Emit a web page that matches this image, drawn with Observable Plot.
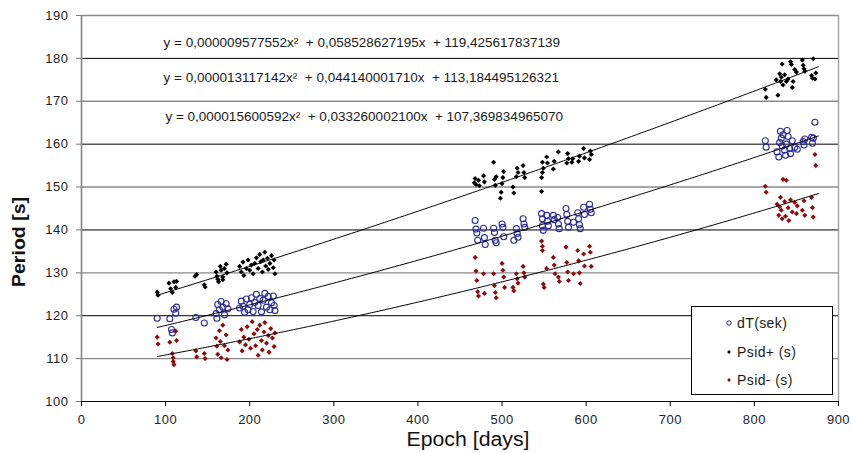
<!DOCTYPE html>
<html><head><meta charset="utf-8">
<script src="https://cdn.jsdelivr.net/npm/d3@7"></script>
<script src="https://cdn.jsdelivr.net/npm/@observablehq/plot@0.6"></script>
<style>
html,body{margin:0;padding:0;background:#fff;}
#chart{position:relative;width:852px;height:453px;}
#chart svg{font-family:"Liberation Sans",Arial,sans-serif;}
</style></head><body><div id="chart"></div>
<script>
// ---- data: [epoch (days), period (s)] ----
const dT = [
[90,119.4],[105,119.3],[107,116.8],[108,116.0],[110,121.5],[112,120.6],[113,122.0],[136,119.6],[146,118.3],
[160,120.5],[161,119.4],[162,122.6],[164,121.4],[166,123.3],[168,122.0],[170,120.2],[172,122.8],[174,121.6],
[188,121.8],[190,123.4],[192,122.2],[194,120.8],[196,123.9],[198,121.4],[200,122.6],[202,124.2],[204,121.0],
[206,123.1],[208,125.0],[210,122.4],[212,124.0],[214,120.9],[216,123.6],[218,125.2],[220,122.0],[222,124.5],
[224,121.4],[226,123.0],[228,124.6],[229,122.4],[230,121.2],
[468,142.2],[469,140.2],[470,139.3],[471,137.6],[478,140.4],[479,138.2],[480,136.6],[490,140.4],[491,139.4],
[492,137.6],[493,137.0],[500,141.4],[501,140.6],[502,138.4],[514,137.6],[517,140.3],[518,139.2],[519,138.3],
[525,142.6],[526,141.4],[527,140.6],[547,143.8],[548,142.6],[548,141.0],[549,139.9],[553,143.4],[554,142.0],
[555,141.0],[561,143.4],[562,142.4],[566,142.9],[567,141.4],[568,140.3],[576,145.0],[577,143.6],[578,142.0],
[579,140.6],[585,141.8],[590,144.0],[591,142.6],[592,141.2],[593,140.3],[597,145.3],[598,143.6],[604,146.0],
[605,144.8],[606,144.0],
[813,160.8],[814,159.3],[827,158.2],[829,157.0],[830,160.4],[831,163.0],[832,161.4],[833,159.6],[834,162.2],
[836,158.6],[837,157.4],[838,160.0],[839,163.2],[840,161.8],[842,159.0],[843,157.8],[845,160.8],[848,159.2],
[851,158.8],[858,160.6],[859,159.8],[860,161.2],[868,161.6],[869,160.2],[870,161.4],[872,165.1]
];
const psidPlus = [
[90,125.5],[91,124.8],[104,127.6],[106,126.3],[108,125.4],[110,127.9],[113,128.0],[112,126.6],[135,129.2],
[137,129.6],[146,127.2],[147,126.7],[160,130.2],[161,129.2],[162,128.5],[163,127.9],[165,131.5],[166,130.6],
[168,129.0],[170,131.0],[172,132.0],[173,130.0],[168,128.4],[188,131.5],[190,130.2],[192,132.5],[193,129.4],
[196,131.0],[198,133.0],[200,130.6],[202,131.8],[204,129.8],[206,132.2],[208,133.5],[210,131.0],[212,134.3],
[213,132.6],[215,130.2],[216,133.0],[218,134.8],[219,131.6],[221,133.4],[222,130.8],[224,132.2],[226,134.0],
[228,131.2],[229,133.0],[230,129.8],
[467,151.0],[468,152.0],[469,150.6],[472,151.6],[473,150.3],[478,152.6],[479,151.2],[490,155.8],[491,151.8],
[492,150.4],[493,152.4],[498,147.4],[499,148.8],[500,150.8],[501,152.2],[502,153.6],[513,150.0],[514,148.6],
[517,152.4],[518,154.4],[519,153.4],[525,155.0],[526,153.4],[527,152.2],[547,149.0],[547,152.2],[548,153.4],
[549,154.4],[548,155.8],[553,157.0],[554,155.6],[561,154.2],[562,156.0],[567,158.2],[577,155.6],[578,157.8],
[579,156.6],[583,155.8],[584,156.6],[591,156.0],[592,157.2],[597,159.0],[598,156.8],[604,156.4],[605,158.4],
[606,157.6],
[813,172.8],[814,170.9],[826,175.0],[828,171.4],[830,176.4],[831,174.6],[832,175.6],[833,178.7],[834,173.8],
[836,176.2],[838,174.6],[840,175.2],[843,179.2],[844,178.6],[845,173.2],[846,174.6],[848,177.4],[850,176.8],
[857,179.6],[858,178.4],[859,177.6],[860,177.0],[868,176.0],[869,175.4],[870,179.9],[872,175.2],[873,176.6]
];
const psidMinus = [
[90,115.0],[91,113.4],[105,113.8],[108,111.2],[109,110.2],[109,109.3],[110,108.6],[112,116.4],[113,114.2],
[136,111.8],[137,110.4],[146,111.2],[147,110.0],[160,114.8],[161,112.9],[162,111.0],[164,116.5],[165,114.0],
[166,110.2],[168,117.8],[170,113.0],[172,115.5],[173,109.8],[174,112.0],[188,113.9],[190,116.8],[191,111.8],
[193,115.0],[195,113.2],[197,117.4],[199,114.5],[201,112.4],[203,118.6],[205,115.8],[207,113.0],[209,116.8],
[210,110.8],[212,117.8],[214,114.2],[215,112.0],[217,116.2],[218,118.4],[220,113.6],[222,115.4],[223,111.5],
[225,117.0],[227,114.8],[229,112.8],[230,116.0],
[468,133.6],[469,130.4],[470,128.2],[471,125.6],[472,124.6],[478,129.8],[479,125.2],[490,129.8],[491,127.0],
[492,125.4],[493,124.2],[500,132.2],[501,130.6],[502,129.0],[503,126.6],[513,126.6],[514,125.8],[517,129.8],
[518,128.6],[519,127.6],[525,131.5],[526,130.0],[527,129.0],[547,137.4],[548,136.2],[548,135.2],[549,127.4],
[550,126.6],[553,131.0],[561,133.6],[562,131.8],[563,129.8],[567,129.0],[568,128.0],[576,136.0],[577,132.4],
[578,130.2],[579,128.2],[585,129.8],[590,135.2],[591,132.8],[592,130.0],[593,127.5],[597,134.4],[598,131.6],
[604,136.2],[605,134.8],[606,131.5],
[813,150.2],[814,148.8],[827,146.0],[829,143.4],[830,145.4],[831,147.6],[832,144.6],[833,142.6],[834,151.8],
[836,146.6],[837,143.2],[838,151.6],[840,145.2],[841,142.2],[843,147.0],[845,144.2],[848,146.4],[850,143.8],
[851,145.6],[857,144.6],[859,146.8],[860,143.4],[868,147.6],[869,145.2],[870,143.0],[872,157.6],[873,155.0]
];
// polynomial trendline coefficients as printed on the chart [a, b, c] : y = a x^2 + b x + c
const trendPsidPlus  = [0.000009577552, 0.058528627195, 119.425617837139];
const trendDT        = [0.000013117142, 0.044140001710, 113.184495126321];
const trendPsidMinus = [0.000015600592, 0.033260002100, 107.369834965070];
const equationLabels = [
  "y = 0,000009577552x\u00b2\u00a0\u00a0+ 0,058528627195x\u00a0\u00a0+ 119,425617837139",
  "y = 0,000013117142x\u00b2\u00a0\u00a0+ 0,044140001710x\u00a0\u00a0+ 113,184495126321",
  "y = 0,000015600592x\u00b2\u00a0\u00a0+ 0,033260002100x\u00a0\u00a0+ 107,369834965070"
];
const seriesNames = ["dT(sek)", "Psid+ (s)", "Psid- (s)"];
const xTicks = [0,100,200,300,400,500,600,700,800,900];
const yTicks = [100,110,120,130,140,150,160,170,180,190];

// ---- chart ----
const BLUE = "#2b2b9a", RED = "#8e0c0c";
const trendRange = [90, 876];
function trendPoints(c) {
  const xs = d3.range(trendRange[0], trendRange[1] + 0.1, 3);
  return xs.map(x => ({x, y: c[0]*x*x + c[1]*x + c[2]}));
}
const gridDark = yTicks.filter(v => v > 100 && v % 20 === 0);
const gridLight = yTicks.filter(v => v > 100 && v % 20 !== 0);

const plot = Plot.plot({
  width: 852, height: 453,
  marginLeft: 81, marginRight: 14, marginTop: 15, marginBottom: 52,
  x: {domain: [0, 900]},
  y: {domain: [100, 190]},
  style: {fontFamily: '"Liberation Sans", Arial, sans-serif', background: "#fff"},
  marks: [
    Plot.ruleY(gridLight, {stroke: "#8a8a8a", strokeWidth: 1.4}),
    Plot.ruleY(gridDark, {stroke: "#000", strokeWidth: 1}),
    Plot.ruleX([900], {stroke: "#a0a0a0", strokeWidth: 1.4}),
    Plot.axisX({ticks: xTicks, tickSize: 5, tickPadding: 8, fontSize: 13, label: null, stroke: "#000", fill: "#222"}),
    Plot.axisY({ticks: yTicks, tickSize: 5, tickPadding: 8, fontSize: 13, label: null, stroke: "#777", fill: "#222"}),
    Plot.ruleX([0], {stroke: "#858585", strokeWidth: 1.6}),
    Plot.ruleY([100], {stroke: "#000", strokeWidth: 1.2}),
    Plot.dot(dT, {x: d => d[0], y: d => d[1], r: 3, stroke: BLUE, strokeWidth: 1.1, fill: "none"}),
    Plot.dot(psidPlus, {x: d => d[0], y: d => d[1], r: 2.3, symbol: "diamond2", fill: "#000", stroke: "none"}),
    Plot.dot(psidMinus, {x: d => d[0], y: d => d[1], r: 2.3, symbol: "diamond2", fill: RED, stroke: "none"}),
    Plot.line(trendPoints(trendPsidPlus), {x: "x", y: "y", stroke: "#000", strokeWidth: 1}),
    Plot.line(trendPoints(trendDT), {x: "x", y: "y", stroke: "#000", strokeWidth: 1}),
    Plot.line(trendPoints(trendPsidMinus), {x: "x", y: "y", stroke: "#000", strokeWidth: 1}),
    Plot.text(equationLabels, {
      x: [97.5, 97.5, 99.8], y: [183.6, 175.5, 166.4],
      text: d => d, textAnchor: "start", lineAnchor: "middle",
      fontSize: 13.5, fill: "#1a1a1a", ariaLabel: "equations"
    })
  ]
});
document.getElementById("chart").appendChild(plot);

const svg = d3.select(plot);
svg.selectAll('g[aria-label="equations"] text')
  .attr("textLength", 424).attr("lengthAdjust", "spacing");
svg.selectAll('g[aria-label^="x-axis tick label"] text, g[aria-label^="y-axis tick label"] text')
  .style("letter-spacing", "0.5px");

// axis titles
svg.append("text")
  .attr("x", 468).attr("y", 446).attr("text-anchor", "middle")
  .attr("font-size", 20).attr("fill", "#111")
  .attr("textLength", 123).attr("lengthAdjust", "spacingAndGlyphs")
  .text("Epoch [days]");
svg.append("text")
  .attr("transform", "translate(25,242) rotate(-90)")
  .attr("text-anchor", "middle").attr("font-weight", "bold")
  .attr("font-size", 18).attr("fill", "#111")
  .attr("textLength", 90).attr("lengthAdjust", "spacingAndGlyphs")
  .text("Period [s]");

// legend
const lg = svg.append("g").attr("aria-label", "legend").attr("text-anchor", "start");
lg.append("rect").attr("x", 691.5).attr("y", 306.5).attr("width", 141).attr("height", 88)
  .attr("fill", "#fff").attr("stroke", "#000").attr("stroke-width", 1);
const rowsY = [323, 352, 380];
const sym = d3.symbol().type(d3.symbolDiamond2).size(9);
seriesNames.forEach((name, i) => {
  const y = rowsY[i], x = 729;
  if (i === 0) {
    lg.append("circle").attr("cx", x).attr("cy", y).attr("r", 2.2)
      .attr("fill", "none").attr("stroke", BLUE).attr("stroke-width", 1);
  } else {
    lg.append("path").attr("d", sym()).attr("transform", `translate(${x},${y})`)
      .attr("fill", i === 1 ? "#000" : RED);
  }
  lg.append("text").attr("x", 737).attr("y", y + 5).attr("font-size", 14)
    .attr("text-anchor", "start")
    .attr("fill", "#1a1a1a").style("letter-spacing", "0.4px").text(name);
});
</script></body></html>
